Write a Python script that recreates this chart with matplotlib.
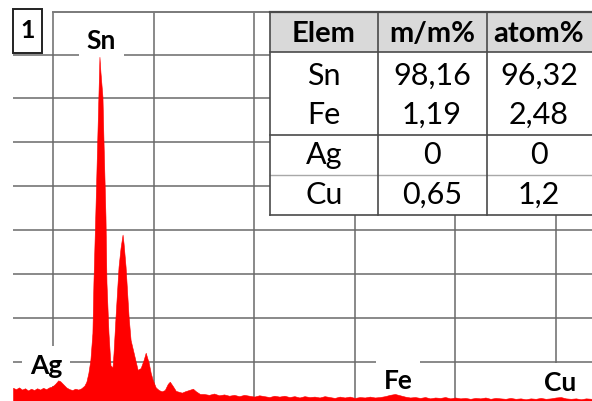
import matplotlib
matplotlib.use("Agg")
import matplotlib.pyplot as plt
from matplotlib.patches import Rectangle

plt.rcParams['font.family'] = ['Lato', 'DejaVu Sans']

# ---- spectrum data (energy keV, intensity in grid units) ----
energy = [2.60, 2.63, 2.66, 2.69, 2.72, 2.75, 2.78, 2.81, 2.84, 2.87, 2.90, 2.93,
          2.96, 2.99, 3.02, 3.05, 3.07, 3.10, 3.13, 3.16, 3.19, 3.22, 3.25, 3.28,
          3.31, 3.33, 3.35, 3.37, 3.39, 3.40, 3.42, 3.44, 3.46, 3.47, 3.49, 3.50,
          3.52, 3.53, 3.55, 3.57, 3.59, 3.60, 3.62, 3.65, 3.67, 3.69, 3.70, 3.72,
          3.75, 3.77, 3.80, 3.84, 3.87, 3.90, 3.92, 3.95, 3.97, 3.99, 4.02, 4.05,
          4.08, 4.11, 4.14, 4.16, 4.19, 4.22, 4.25, 4.28, 4.31, 4.35, 4.39, 4.42,
          4.46,
          4.50, 4.55, 4.60, 4.65, 4.70, 4.75, 4.80, 4.85, 4.90, 4.95, 5.00, 5.05,
          5.10, 5.15, 5.20, 5.25, 5.30, 5.35, 5.40, 5.45, 5.50, 5.55, 5.60, 5.65,
          5.70, 5.75, 5.80, 5.85, 5.90, 5.95, 6.00, 6.05, 6.10, 6.15, 6.20, 6.25,
          6.30, 6.35, 6.40, 6.45, 6.50, 6.55, 6.60, 6.65, 6.70, 6.75, 6.80, 6.85,
          6.90, 6.95, 7.00, 7.05, 7.10, 7.15, 7.20, 7.25, 7.30, 7.35, 7.40, 7.45,
          7.50, 7.55, 7.60, 7.65, 7.70, 7.75, 7.80, 7.85, 7.90, 7.95, 8.00, 8.05,
          8.10, 8.15, 8.20, 8.25, 8.30, 8.36]
counts = [0.41, 0.38, 0.42, 0.37, 0.40, 0.35, 0.39, 0.36, 0.40, 0.37, 0.41, 0.38,
          0.42, 0.44, 0.50, 0.58, 0.56, 0.49, 0.42, 0.38, 0.36, 0.39, 0.37, 0.40,
          0.46, 0.55, 0.75, 1.05, 1.66, 2.80, 4.46, 6.22, 7.95, 7.60, 7.04, 6.06,
          4.31, 2.80, 1.66, 0.92, 0.88, 1.20, 2.03, 3.17, 3.60, 3.90, 3.70, 3.17,
          2.03, 1.50, 1.21, 0.82, 0.86, 1.05, 1.21, 0.98, 0.75, 0.59, 0.42, 0.36,
          0.33, 0.36, 0.50, 0.55, 0.45, 0.34, 0.32, 0.30, 0.33, 0.36, 0.39, 0.33,
          0.27,
          0.27, 0.25, 0.28, 0.24, 0.26, 0.23, 0.25, 0.22, 0.25, 0.23, 0.21, 0.24,
          0.22, 0.20, 0.23, 0.21, 0.23, 0.20, 0.22, 0.19, 0.22, 0.20, 0.21, 0.19,
          0.22, 0.20, 0.18, 0.21, 0.19, 0.21, 0.18, 0.20, 0.19, 0.21, 0.19, 0.20,
          0.22, 0.25, 0.27, 0.24, 0.21, 0.19, 0.20, 0.18, 0.20, 0.17, 0.19, 0.18,
          0.20, 0.17, 0.19, 0.17, 0.18, 0.16, 0.18, 0.17, 0.19, 0.16, 0.18, 0.17,
          0.16, 0.18, 0.16, 0.17, 0.15, 0.17, 0.16, 0.18, 0.16, 0.17, 0.19, 0.20,
          0.17, 0.16, 0.17, 0.15, 0.17, 0.16]

# peak labels
peak_labels = ['Sn', 'Ag', 'Fe', 'Cu']
label_x = [3.48, 2.93, 6.43, 8.045]
label_y = [8.31, 0.90, 0.57, 0.52]

# table
headers = ['Elem', 'm/m%', 'atom%']
elements = ['Sn', 'Fe', 'Ag', 'Cu']
mass_pct = ['98,16', '1,19', '0', '0,65']
atom_pct = ['96,32', '2,48', '0', '1,2']

W, H = 592, 401
fig = plt.figure(figsize=(W / 100, H / 100), dpi=100)
fig.patch.set_facecolor('white')

ax = fig.add_axes([13 / W, 0, (W - 13) / W, (H - 12) / H])
ax.set_xlim(2.60, 8.36)
ax.set_ylim(0.11, 8.97)
ax.set_xticks([3, 4, 5, 6, 7, 8])
ax.set_yticks([1, 2, 3, 4, 5, 6, 7, 8])
ax.tick_params(length=0, labelbottom=False, labelleft=False)
for s in ax.spines.values():
    s.set_visible(False)
ax.grid(True, color='#6a6a6a', lw=1.1, zorder=1)
ax.set_axisbelow(True)
ax.axhline(8.97, xmin=(3 - 2.60) / (8.36 - 2.60), xmax=1, color='#7a7a7a',
           lw=1.4, clip_on=False, zorder=1)

ax.fill_between(energy, 0, counts, color='#ff0000', lw=0.4, edgecolor='#ff0000',
                zorder=4)

for lab, lx, ly in zip(peak_labels, label_x, label_y):
    ax.text(lx, ly, lab, ha='center', va='center', fontsize=19, fontweight='bold',
            color='black', zorder=3,
            bbox=dict(boxstyle='square,pad=0.3', fc='white', ec='none'))

# overlay in pixel coordinates
ov = fig.add_axes([0, 0, 1, 1], zorder=10)
ov.set_xlim(0, W)
ov.set_ylim(H, 0)
ov.axis('off')
ov.patch.set_alpha(0)

# panel number box
ov.add_patch(Rectangle((13, 9), 29, 44, fc='white', ec='#222222', lw=1.4))
ov.text(27.5, 31, '1', ha='center', va='center', fontsize=18, fontweight='bold')

# table
col_edges = [270, 378, 487, 600]
top, head_bot, bot = 12, 52, 215
row_centers = [76, 115, 155, 195]
ov.add_patch(Rectangle((col_edges[0], top), col_edges[-1] - col_edges[0], bot - top,
                       fc='white', ec='none'))
ov.add_patch(Rectangle((col_edges[0], top), col_edges[-1] - col_edges[0], head_bot - top,
                       fc='#d9d9d9', ec='none'))
dark = '#4a4a4a'
ov.plot([col_edges[0], W], [top, top], color=dark, lw=1.6)
ov.plot([col_edges[0], W], [head_bot, head_bot], color=dark, lw=1.2)
ov.plot([col_edges[0], W], [135, 135], color=dark, lw=1.2)
ov.plot([col_edges[0], W], [175, 175], color='#a8a8a8', lw=1.0)
ov.plot([col_edges[0], W], [bot, bot], color=dark, lw=1.2)
for cx in col_edges[:3]:
    ov.plot([cx, cx], [top, bot], color=dark, lw=1.2)

col_centers = [324, 432, 539]
for c, h in zip(col_centers, headers):
    ov.text(c, 34, h, ha='center', va='center', fontsize=21, fontweight='bold')
for r, (e, m, a) in enumerate(zip(elements, mass_pct, atom_pct)):
    for c, t in zip(col_centers, (e, m, a)):
        ov.text(c, row_centers[r], t, ha='center', va='center', fontsize=22)

fig.savefig('out.png', dpi=100, facecolor='white')
